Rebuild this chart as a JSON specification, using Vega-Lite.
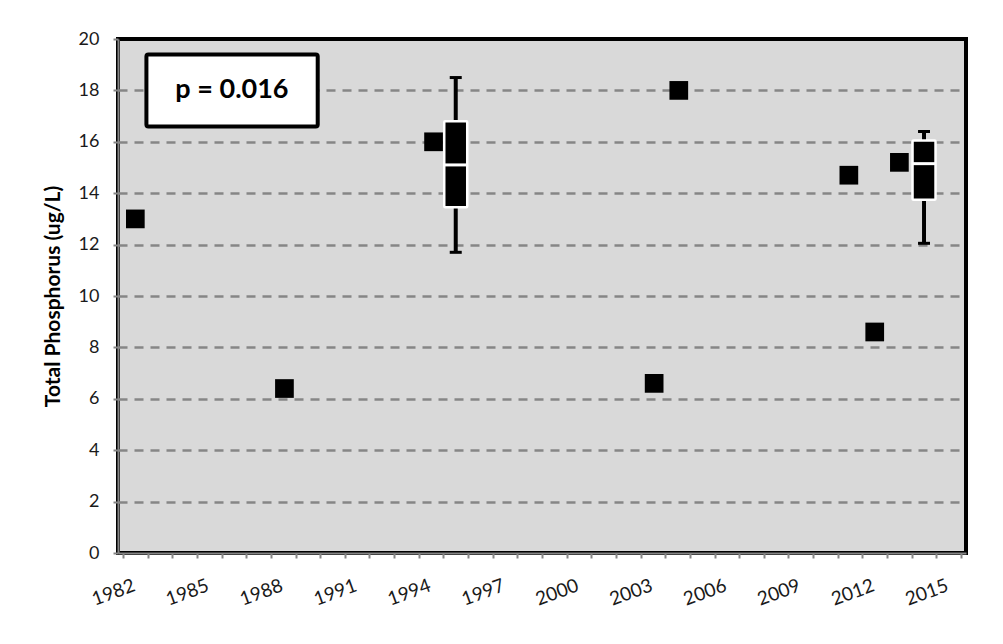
{
  "$schema": "https://vega.github.io/schema/vega-lite/v6.json",
  "autosize": {"type": "none"},
  "padding": {"left": 118, "top": 39, "right": 37, "bottom": 91},
  "width": 848,
  "height": 514,
  "background": "#ffffff",
  "config": {
    "font": "Lato",
    "view": {"fill": "#d9d9d9", "stroke": "#000000", "strokeWidth": 4},
    "axis": {
      "labelFont": "Lato",
      "labelFontSize": 18,
      "labelColor": "#1a1a1a",
      "domainColor": "#868686",
      "domainWidth": 2,
      "tickColor": "#868686",
      "tickWidth": 2,
      "tickSize": 5,
      "titleFont": "Lato",
      "titleFontWeight": "bold",
      "titleColor": "#000000"
    }
  },
  "datasets": {
    "points": [
      {"year": 1982.5, "tp": 13.0},
      {"year": 1988.55, "tp": 6.4},
      {"year": 1994.6, "tp": 16.0},
      {"year": 2003.55, "tp": 6.6},
      {"year": 2004.55, "tp": 18.0},
      {"year": 2011.45, "tp": 14.7},
      {"year": 2012.5, "tp": 8.6},
      {"year": 2013.5, "tp": 15.2}
    ],
    "boxes": [
      {"year": 1995.5, "min": 11.7, "q1": 13.45, "median": 15.1, "q3": 16.8, "max": 18.5},
      {"year": 2014.5, "min": 12.05, "q1": 13.75, "median": 15.15, "q3": 16.05, "max": 16.4}
    ],
    "note": [
      {"x1": 1982.95, "x2": 1989.9, "y1": 16.6, "y2": 19.4, "xc": 1986.42, "yc": 18.0, "label": "p = 0.016"}
    ]
  },
  "encoding": {
    "x": {
      "field": "year", "type": "quantitative",
      "scale": {"domain": [1982, 2016], "nice": false, "zero": false},
      "axis": {
        "title": null,
        "grid": false,
        "tickCount": 100,
        "values": [1982,1983,1984,1985,1986,1987,1988,1989,1990,1991,1992,1993,1994,1995,1996,1997,1998,1999,2000,2001,2002,2003,2004,2005,2006,2007,2008,2009,2010,2011,2012,2013,2014,2015,2016],
        "format": "d",
        "labelExpr": "(datum.value - 1982) % 3 == 0 && datum.value < 2016 ? datum.label : ''",
        "labelOverlap": false,
        "labelFontSize": 19,
        "labelAngle": -20,
        "labelAlign": "center",
        "labelBaseline": "middle",
        "labelPadding": 34,
        "labelOffset": -10,
        "labelFlush": false,
        "labelBound": false
      }
    },
    "y": {
      "type": "quantitative",
      "scale": {"domain": [0, 20], "nice": false},
      "axis": {
        "title": "Total Phosphorus (ug/L)",
        "titleFontSize": 21,
        "titlePadding": 15,
        "values": [0,2,4,6,8,10,12,14,16,18,20],
        "format": "d",
        "grid": true,
        "gridColor": {"condition": {"test": "datum.value == 20 || datum.value == 0", "value": "transparent"}, "value": "#868686"},
        "gridDash": [9, 7],
        "gridWidth": 2.5,
        "labelPadding": 14
      }
    }
  },
  "layer": [
    {
      "data": {"name": "boxes"},
      "mark": {"type": "rule", "color": "#000000", "strokeWidth": 4},
      "encoding": {
        "y": {"field": "min", "type": "quantitative"},
        "y2": {"field": "max"}
      }
    },
    {
      "data": {"name": "boxes"},
      "mark": {"type": "tick", "orient": "horizontal", "size": 12, "thickness": 3, "color": "#000000", "opacity": 1},
      "encoding": {
        "y": {"field": "max", "type": "quantitative"}
      }
    },
    {
      "data": {"name": "boxes"},
      "mark": {"type": "tick", "orient": "horizontal", "size": 12, "thickness": 3, "color": "#000000", "opacity": 1},
      "encoding": {
        "y": {"field": "min", "type": "quantitative"}
      }
    },
    {
      "data": {"name": "boxes"},
      "mark": {"type": "bar", "size": 23, "fill": "#000000", "stroke": "#ffffff", "strokeWidth": 2.5, "cornerRadius": 1},
      "encoding": {
        "y": {"field": "q1", "type": "quantitative"},
        "y2": {"field": "q3"}
      }
    },
    {
      "data": {"name": "boxes"},
      "mark": {"type": "tick", "orient": "horizontal", "size": 23, "thickness": 3, "color": "#ffffff", "opacity": 1},
      "encoding": {
        "y": {"field": "median", "type": "quantitative"}
      }
    },
    {
      "data": {"name": "points"},
      "mark": {"type": "point", "shape": "square", "filled": true, "size": 350, "color": "#000000", "opacity": 1},
      "encoding": {
        "y": {"field": "tp", "type": "quantitative"}
      }
    },
    {
      "data": {"name": "note"},
      "mark": {"type": "rect", "fill": "#ffffff", "stroke": "#000000", "strokeWidth": 4, "cornerRadius": 2},
      "encoding": {
        "x": {"field": "x1", "type": "quantitative"},
        "x2": {"field": "x2"},
        "y": {"field": "y1", "type": "quantitative"},
        "y2": {"field": "y2"}
      }
    },
    {
      "data": {"name": "note"},
      "mark": {"type": "text", "font": "Lato", "fontWeight": "bold", "fontSize": 27, "color": "#000000", "align": "center", "baseline": "middle"},
      "encoding": {
        "x": {"field": "xc", "type": "quantitative"},
        "y": {"field": "yc", "type": "quantitative"},
        "text": {"field": "label"}
      }
    }
  ]
}
